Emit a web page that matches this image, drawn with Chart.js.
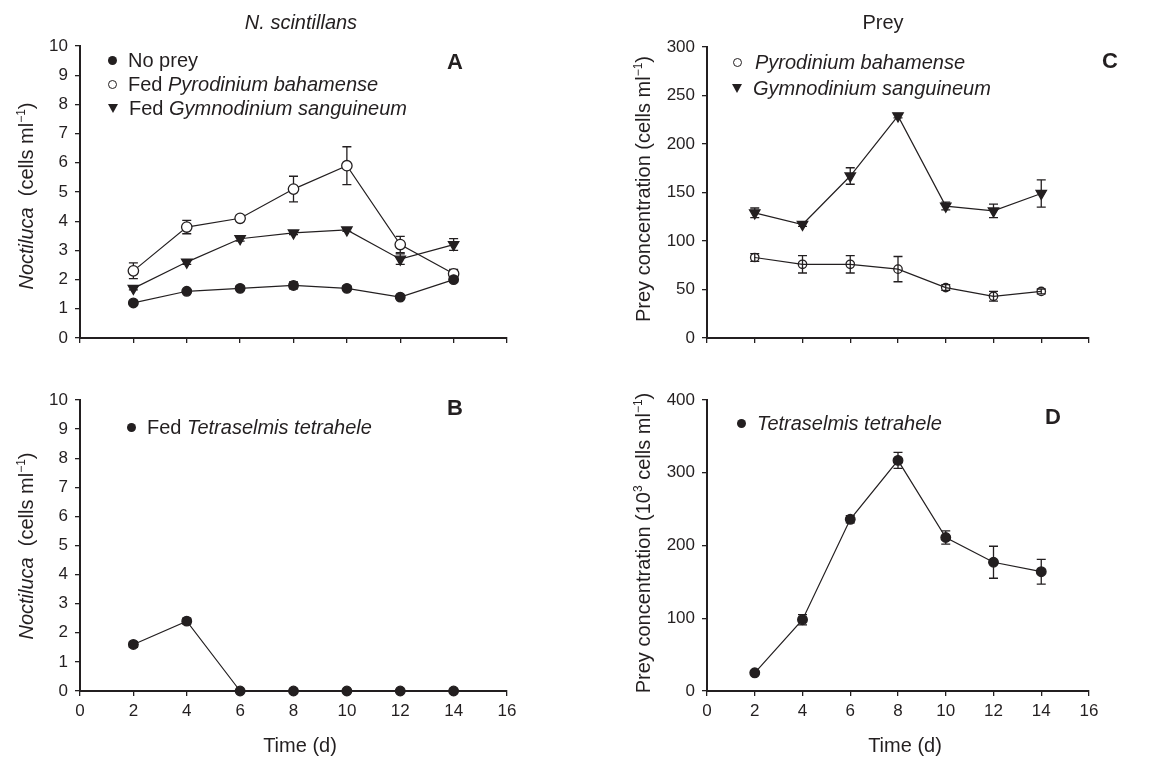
<!DOCTYPE html>
<html>
<head>
<meta charset="utf-8">
<script src="https://cdn.jsdelivr.net/npm/chart.js@4.4.1/dist/chart.umd.min.js"></script>
<style>
  body { margin: 0; background: #fff; }
  #wrap { position: relative; width: 1164px; height: 757px; font-family: "Liberation Sans", Arial, sans-serif; color: #231f20; }
  #wrap canvas { position: absolute; left: 0; top: 0; }
  .lbl { position: absolute; white-space: nowrap; font-size: 20px; line-height: 1; transform: translate(-50%, -50%); }
  .ylbl { position: absolute; white-space: nowrap; font-size: 20px; line-height: 1; transform: translate(-50%, -50%) rotate(-90deg); }
  .letter { position: absolute; font-size: 22px; font-weight: bold; line-height: 1; transform: translate(-50%, -50%); }
  .leg { position: absolute; white-space: nowrap; font-size: 20px; line-height: 1; transform: translateY(-50%); display: flex; align-items: center; }
  .mk { display: inline-block; margin-right: 11px; }
  .dot { width: 9px; height: 9px; border-radius: 50%; background: #231f20; }
  .ring { width: 7px; height: 7px; border-radius: 50%; border: 1.3px solid #231f20; }
  .tri { width: 0; height: 0; border-left: 5.5px solid transparent; border-right: 5.5px solid transparent; border-top: 9px solid #231f20; }
  sup { font-size: 12px; vertical-align: 8px; line-height: 0; }
</style>
</head>
<body>
<div id="wrap">
  <canvas id="chartA" width="1164" height="757"></canvas>
  <canvas id="chartB" width="1164" height="757"></canvas>
  <canvas id="chartC" width="1164" height="757"></canvas>
  <canvas id="chartD" width="1164" height="757"></canvas>

  <div class="lbl" style="left:301px;top:22px;"><i>N. scintillans</i></div>
  <div class="lbl" style="left:883px;top:22px;">Prey</div>

  <div class="ylbl" style="left:26px;top:196px;"><i>Noctiluca</i>&nbsp; (cells ml<sup>−1</sup>)</div>
  <div class="ylbl" style="left:26px;top:546px;"><i>Noctiluca</i>&nbsp; (cells ml<sup>−1</sup>)</div>
  <div class="ylbl" style="left:643px;top:189px;">Prey concentration (cells ml<sup>−1</sup>)</div>
  <div class="ylbl" style="left:643px;top:543px;">Prey concentration (10<sup>3</sup> cells ml<sup>−1</sup>)</div>

  <div class="lbl" style="left:300px;top:745px;">Time (d)</div>
  <div class="lbl" style="left:905px;top:745px;">Time (d)</div>

  <div class="letter" style="left:455px;top:62px;">A</div>
  <div class="letter" style="left:455px;top:408px;">B</div>
  <div class="letter" style="left:1110px;top:61px;">C</div>
  <div class="letter" style="left:1053px;top:417px;">D</div>

  <div class="leg" style="left:108px;top:60px;"><span class="mk dot"></span>No prey</div>
  <div class="leg" style="left:108px;top:84px;"><span class="mk ring"></span>Fed&nbsp;<i>Pyrodinium bahamense</i></div>
  <div class="leg" style="left:108px;top:108px;"><span class="mk tri"></span>Fed&nbsp;<i>Gymnodinium sanguineum</i></div>
  <div class="leg" style="left:127px;top:427px;"><span class="mk dot"></span>Fed&nbsp;<i>Tetraselmis tetrahele</i></div>
  <div class="leg" style="left:733px;top:62px;"><span class="mk ring" style="margin-right:13px;"></span><i>Pyrodinium bahamense</i></div>
  <div class="leg" style="left:732px;top:88px;"><span class="mk tri"></span><i>Gymnodinium sanguineum</i></div>
  <div class="leg" style="left:737px;top:423px;"><span class="mk dot"></span><i>Tetraselmis tetrahele</i></div>
</div>

<script>
// sampling days
const days = [2, 4, 6, 8, 10, 12, 14];
const xTicks = [0, 2, 4, 6, 8, 10, 12, 14, 16];

// A: Noctiluca abundance (cells ml-1)
const noPrey = [1.2, 1.6, 1.7, 1.8, 1.7, 1.4, 2.0];
const noPreyErr = [0.05, 0.05, 0.08, 0.12, 0.08, 0.05, 0.08];
const fedPyro = [2.3, 3.8, 4.1, 5.1, 5.9, 3.2, 2.2];
const fedPyroErr = [0.27, 0.23, 0.1, 0.44, 0.65, 0.28, 0.15];
const fedGymno = [1.7, 2.6, 3.4, 3.6, 3.7, 2.7, 3.2];
const fedGymnoErr = [0.05, 0.08, 0.08, 0.06, 0.05, 0.18, 0.2];

// B
const fedTetra = [1.6, 2.4, 0, 0, 0, 0, 0];
const fedTetraErr = [0.1, 0.1, 0, 0, 0, 0, 0];

// C: prey concentration (cells ml-1)
const preyPyro = [83, 76, 76, 71, 52, 43, 48];
const preyPyroErr = [4, 9, 9, 13, 3, 5, 2.5];
const preyGymno = [129, 117, 167, 229, 136, 131, 149];
const preyGymnoErr = [5, 2, 8.5, 2, 4, 7, 14];

// D: prey concentration (10^3 cells ml-1)
const preyTetra = [25, 98, 236, 317, 211, 177, 164];
const preyTetraErr = [2, 7, 5, 11, 9, 22, 17];

const ink = '#231f20';
const W = 1164, H = 757;
const yW = 60, xH = 40;

// draws vertical error bars with caps, under the markers
const errorBars = {
  id: 'errorBars',
  beforeDatasetsDraw(chart) {
    const { ctx, scales: { x, y } } = chart;
    ctx.save();
    ctx.strokeStyle = ink;
    ctx.lineWidth = 1.3;
    chart.data.datasets.forEach(ds => {
      if (!ds.errors) return;
      ds.data.forEach((pt, i) => {
        const e = ds.errors[i];
        if (!e) return;
        const px = x.getPixelForValue(pt.x);
        const top = y.getPixelForValue(pt.y + e);
        const bot = y.getPixelForValue(pt.y - e);
        ctx.beginPath();
        ctx.moveTo(px, top); ctx.lineTo(px, bot);
        ctx.moveTo(px - 4.5, top); ctx.lineTo(px + 4.5, top);
        ctx.moveTo(px - 4.5, bot); ctx.lineTo(px + 4.5, bot);
        ctx.stroke();
      });
    });
    ctx.restore();
  }
};

function series(values, errors, style, radius, fill) {
  return {
    data: values.map((v, i) => ({ x: days[i], y: v })),
    errors: errors,
    borderColor: ink,
    borderWidth: 1.2,
    pointStyle: style,
    pointRotation: style === 'triangle' ? 180 : 0,
    pointRadius: radius,
    pointBorderWidth: 1.3,
    pointBorderColor: ink,
    pointBackgroundColor: fill,
    clip: false,
    tension: 0
  };
}

function makePanel(id, box, yMax, yStep, showX, datasets) {
  return new Chart(document.getElementById(id), {
    type: 'line',
    data: { datasets },
    plugins: [errorBars],
    options: {
      responsive: false,
      animation: false,
      events: [],
      layout: {
        padding: {
          left: box.left - yW,
          top: box.top,
          right: W - box.right,
          bottom: H - box.bottom - xH
        }
      },
      plugins: { legend: { display: false }, tooltip: { enabled: false } },
      scales: {
        x: {
          type: 'linear',
          min: 0, max: 16,
          afterFit(s) { s.height = xH; },
          afterBuildTicks(s) { s.ticks = xTicks.map(v => ({ value: v })); },
          grid: { drawOnChartArea: false, color: ink, lineWidth: 1.3, tickLength: 5 },
          border: { color: ink, width: 2 },
          ticks: {
            display: showX,
            color: ink,
            padding: 5,
            font: { family: '"Liberation Sans", Arial, sans-serif', size: 17 }
          }
        },
        y: {
          min: 0, max: yMax,
          afterFit(s) { s.width = yW; },
          grid: { drawOnChartArea: false, color: ink, lineWidth: 1.3, tickLength: 5 },
          border: { color: ink, width: 2 },
          ticks: {
            stepSize: yStep,
            color: ink,
            padding: 7,
            font: { family: '"Liberation Sans", Arial, sans-serif', size: 17 }
          }
        }
      }
    }
  });
}

makePanel('chartA', { left: 80, top: 46, right: 507, bottom: 338 }, 10, 1, false, [
  series(noPrey, noPreyErr, 'circle', 4.8, ink),
  series(fedPyro, fedPyroErr, 'circle', 5.2, '#fff'),
  series(fedGymno, fedGymnoErr, 'triangle', 6, ink)
]);

makePanel('chartB', { left: 80, top: 400, right: 507, bottom: 691 }, 10, 1, true, [
  series(fedTetra, fedTetraErr, 'circle', 4.8, ink)
]);

makePanel('chartC', { left: 707, top: 47, right: 1089, bottom: 338 }, 300, 50, false, [
  series(preyPyro, preyPyroErr, 'circle', 4.2, 'rgba(0,0,0,0)'),
  series(preyGymno, preyGymnoErr, 'triangle', 6, ink)
]);

makePanel('chartD', { left: 707, top: 400, right: 1089, bottom: 691 }, 400, 100, true, [
  series(preyTetra, preyTetraErr, 'circle', 4.8, ink)
]);
</script>
</body>
</html>
